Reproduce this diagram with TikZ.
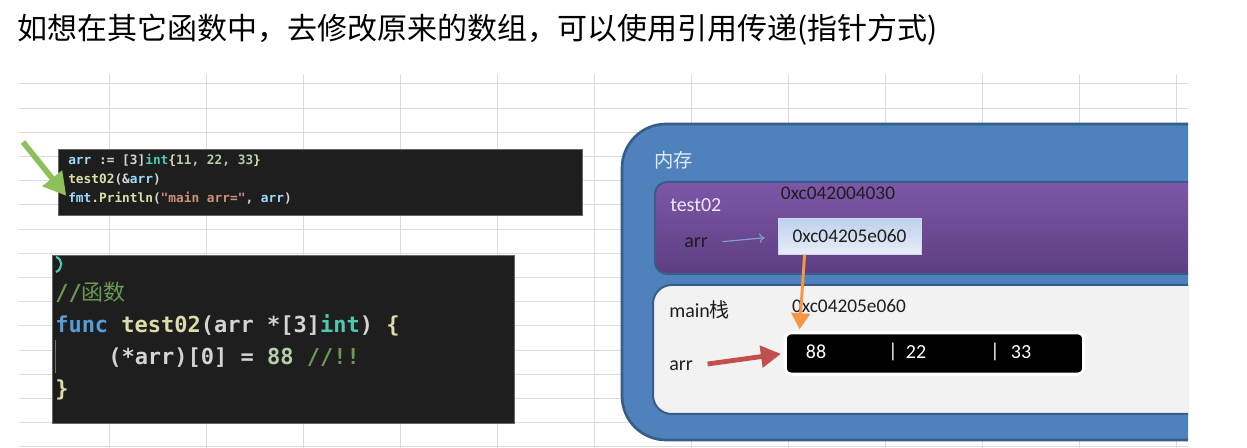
\documentclass[tikz,border=0pt]{standalone}
\usepackage{fontspec}
\setmainfont{Carlito}
\newfontfamily\cjk{Noto Sans CJK SC}
\newfontfamily\mono{DejaVu Sans Mono}
\usetikzlibrary{arrows.meta,shadows}
\definecolor{gridc}{HTML}{DCDCDC}
\definecolor{codebg}{HTML}{1E1E1E}
\definecolor{cwhite}{HTML}{D4D4D4}
\definecolor{cblue}{HTML}{9CDCFE}
\definecolor{cteal}{HTML}{4EC9B0}
\definecolor{cnum}{HTML}{B5CEA8}
\definecolor{cyel}{HTML}{DCDCAA}
\definecolor{cstr}{HTML}{CE9178}
\definecolor{ccom}{HTML}{6A9955}
\definecolor{ckw}{HTML}{569CD6}
\definecolor{memblue}{HTML}{4F81BD}
\definecolor{memborder}{HTML}{385D8A}
\definecolor{memtext}{HTML}{E4EAF5}
\definecolor{purtop}{HTML}{7E57A8}
\definecolor{purbot}{HTML}{5D3E82}
\definecolor{ptrtop}{HTML}{BFD0EC}
\definecolor{ptrbot}{HTML}{E8EDF8}
\definecolor{mainbg}{HTML}{F2F2F2}
\definecolor{darktext}{HTML}{1E1E1E}
\definecolor{oarrow}{HTML}{F79646}
\definecolor{rarrow}{HTML}{C0504D}
\definecolor{garrow}{HTML}{8DBF5A}
\definecolor{sarrow}{HTML}{7F9FD3}
\definecolor{lavtext}{HTML}{EDE6F7}
\begin{document}
\begin{tikzpicture}[x=0.75pt,y=-0.75pt,
  gridline/.style={draw=gridc, line width=0.75pt},
  codebox/.style={fill=codebg, draw=black!60, line width=0.4pt, anchor=north west, inner sep=0pt},
  codeA/.style={inner sep=0pt, anchor=west, font=\mono\bfseries\fontsize{9.6}{11}\selectfont, text=cwhite},
  codeB/.style={inner sep=0pt, anchor=west, font=\mono\bfseries\fontsize{16.5}{19}\selectfont, text=cwhite},
  lbl/.style={inner sep=0pt, anchor=west, font=\fontsize{15}{17}\selectfont, text=darktext},
  hexlbl/.style={inner sep=0pt, font=\fontsize{14.5}{17}\selectfont, text=darktext},
  cell/.style={inner sep=0pt, font=\fontsize{15}{17}\selectfont, text=white},
  ptrbox/.style={minimum width=107pt, minimum height=27pt, inner sep=0pt, top color=ptrtop, bottom color=ptrbot, draw=ptrtop!80!white, line width=0.4pt, font=\fontsize{14.5}{17}\selectfont, text=darktext},
  arrbox/.style={minimum width=224pt, minimum height=31pt, inner sep=0pt, fill=black, draw=white, line width=2.4pt, rounded corners=4.5pt, drop shadow={shadow xshift=0.8pt, shadow yshift=-1.2pt, opacity=0.35}},
  greenarrow/.style={draw=garrow, line width=4.2pt, -{Triangle[length=17pt,width=18pt]}},
  redarrow/.style={draw=rarrow, line width=3.6pt, -{Triangle[length=15pt,width=16pt]}},
  orangearrow/.style={draw=oarrow, line width=2.2pt, -{Triangle[length=12pt,width=14pt]}},
  smallarrow/.style={draw=sarrow, line width=0.9pt, -{To[length=4pt,width=7pt]}}
]
\useasboundingbox (0,0) rectangle (1247,448);
\fill[white] (0,0) rectangle (1247,448);
% spreadsheet grid
\foreach \k in {0,...,15} \draw[gridline] (19,{84+24.2*\k}) -- (1188,{84+24.2*\k});
\foreach \k in {0,...,11} \draw[gridline] ({109+97*\k},74) -- ({109+97*\k},448);

% title
\node[anchor=west, inner sep=0pt, font=\cjk\fontsize{22.5}{27}\selectfont] (title) at (17,30) {如想在其它函数中，去修改原来的数组，可以使用引用传递(指针方式)};

% code box 1
\node[codebox, minimum width=393pt, minimum height=49.5pt] (codeone) at (58,149) {};
\node[codeA] (l1) at (68,160) {\textcolor{cblue}{arr} := [3]\textcolor{cteal}{int}\textcolor{cyel}{\{}\textcolor{cnum}{11, 22, 33}\textcolor{cyel}{\}}};
\node[codeA] (l2) at (68,179) {\textcolor{cyel}{test02}(\&\textcolor{cblue}{arr})};
\node[codeA] (l3) at (68,198) {\textcolor{cblue}{fmt}.\textcolor{cyel}{Println}(\textcolor{cstr}{"main arr="}, \textcolor{cblue}{arr})};
\coordinate (gtail) at (23,142);
\draw[greenarrow, shorten >=2pt] (gtail) -- (l3.west);

% code box 2
\node[codebox, minimum width=346.5pt, minimum height=126pt] (codetwo) at (52,255) {};
\draw[cteal, line width=1.6pt] (56,257) .. controls (63,259) and (63,269) .. (56,272);
\draw[black!55, line width=0.6pt] (55,340) -- (55,373);
\node[codeB] (l4) at (55,292) {\textcolor{ccom}{//{\cjk\mdseries 函数}}};
\node[codeB] (l5) at (55,325) {\textcolor{ckw}{func} \textcolor{cyel}{test02}(arr *[3]\textcolor{cteal}{int}) \textcolor{cyel}{\{}};
\node[codeB] (l6) at (108,358) {(*arr)[0] = \textcolor{cnum}{88} \textcolor{ccom}{//!!}};
\node[codeB] (l7) at (55,390) {\textcolor{cyel}{\}}};

% memory frame
\path[fill=memblue, draw=memborder, line width=2pt, rounded corners=33pt] (1188,124) -- (622,124) -- (622,440) -- (1188,440);
\node[inner sep=0pt, anchor=west, font=\cjk\fontsize{14.5}{17}\selectfont, text=memtext] (mem) at (654,160) {内存};

% test02 frame
\path[top color=purtop, bottom color=purbot, draw=memborder, line width=1.5pt, rounded corners=9pt] (1188,182) -- (655,182) -- (655,274) -- (1188,274);
\node[lbl, text=lavtext] (tlabel) at (670,205) {test02};
\node[hexlbl] (taddr) at (838,193) {0xc042004030};
\node[lbl] (arrT) at (684,243) {arr};
\node[ptrbox] (ptr) at (849.5,236.5) {0xc04205e060};
\draw[smallarrow, shorten <=11pt, shorten >=10pt] (arrT.east) -- (ptr.west);

% main frame
\path[fill=mainbg, draw=memborder, line width=1.5pt, rounded corners=14pt] (1188,285) -- (653,285) -- (653,414) -- (1188,414);
\node[lbl] (mlabel) at (669,310) {main{\cjk 栈}};
\node[hexlbl] (maddr) at (849,306) {0xc04205e060};
\node[lbl] (arrM) at (669,366) {arr};
\node[arrbox] (arrbox) at (934.5,353.5) {};
\node[cell] (v1) at (816,352) {88};
\node[cell] (b1) at (893,352) {|};
\node[cell] (v2) at (916,352) {22};
\node[cell] (b2) at (995,352) {|};
\node[cell] (v3) at (1021,352) {33};

% arrows
\draw[orangearrow] ([xshift=20pt]ptr.south west) -- ([xshift=12pt,yshift=1.5pt]arrbox.north west);
\draw[redarrow, shorten <=11pt, shorten >=2pt] (arrM.east) -- (arrbox.west);
\end{tikzpicture}
\end{document}
